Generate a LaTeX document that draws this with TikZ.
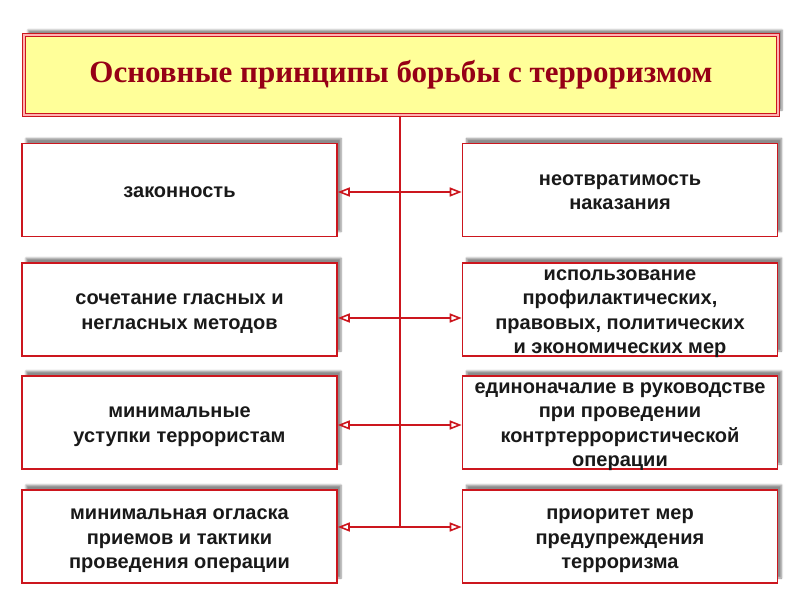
\documentclass[tikz,border=0pt]{standalone}
\usepackage{fontspec}
\setmainfont{Liberation Serif}
\setsansfont{Liberation Sans}
\usetikzlibrary{arrows.meta,shadows.blur}

\definecolor{boxred}{RGB}{204,22,30}
\definecolor{titlered}{RGB}{150,0,22}
\definecolor{titlefill}{RGB}{255,255,153}

% lines of a box, spaced by struts; the box keeps its own size
\newcommand{\boxtext}[1]{\raisebox{-8pt}[0pt][0pt]{\begin{tabular}{@{}c@{}}#1\end{tabular}}}

\tikzset{
  principle/.style={draw=boxred, line width=1.6pt, fill=white,
    minimum width=315pt, minimum height=93pt, inner sep=0pt,
    font=\sffamily\bfseries\fontsize{20}{24.5}\selectfont, text=black!90,
    blur shadow={shadow xshift=4pt, shadow yshift=5pt, shadow blur steps=6, shadow opacity=45}},
  link/.style={boxred, line width=1.6pt,
    {Triangle[open,length=12pt,width=9pt]}-{Triangle[open,length=12pt,width=9pt]}}
}

\begin{document}
\begin{tikzpicture}[x=1pt,y=-1pt]
\useasboundingbox (0,0) rectangle (800,600);

% Title
\node[draw=boxred, line width=1.2pt, double=red!30, double distance=1.2pt,
  fill=titlefill, minimum width=754pt, minimum height=80pt,
  font=\rmfamily\bfseries\fontsize{31}{36}\selectfont, text=titlered,
  blur shadow={shadow xshift=4pt, shadow yshift=5pt, shadow blur steps=6, shadow opacity=45}]
  (title) at (401,75) {Основные принципы борьбы с терроризмом};

% Left column
\node[principle] (law) at (179.5,190) {\boxtext{законность}};
\node[principle] (methods) at (179.5,309.5) {\boxtext{сочетание гласных и\\негласных методов}};
\node[principle] (concess) at (179.5,422.5) {\boxtext{минимальные\\уступки террористам}};
\node[principle] (secrecy) at (179.5,536.5) {\boxtext{минимальная огласка\\приемов и тактики\\проведения операции}};

% Right column
\node[principle] (inevit) at (620,190) {\boxtext{неотвратимость\\наказания}};
\node[principle] (measures) at (620,309.5) {\boxtext{использование\\профилактических,\\правовых, политических\\и экономических мер}};
\node[principle] (command) at (620,422.5) {\boxtext{единоначалие в руководстве\\при проведении\\контртеррористической\\операции}};
\node[principle] (prevent) at (620,536.5) {\boxtext{приоритет мер\\предупреждения\\терроризма}};

% Junctions on the trunk
\coordinate (j1) at (400,192);
\coordinate (j2) at (400,318);
\coordinate (j3) at (400,425);
\coordinate (j4) at (400,527);

% Trunk
\draw[boxred, line width=1.6pt] (title.south -| j1) -- (j4);

% Links
\draw[link] (law.east |- j1) -- (inevit.west |- j1);
\draw[link] (methods.east |- j2) -- (measures.west |- j2);
\draw[link] (concess.east |- j3) -- (command.west |- j3);
\draw[link] (secrecy.east |- j4) -- (prevent.west |- j4);
\end{tikzpicture}
\end{document}
